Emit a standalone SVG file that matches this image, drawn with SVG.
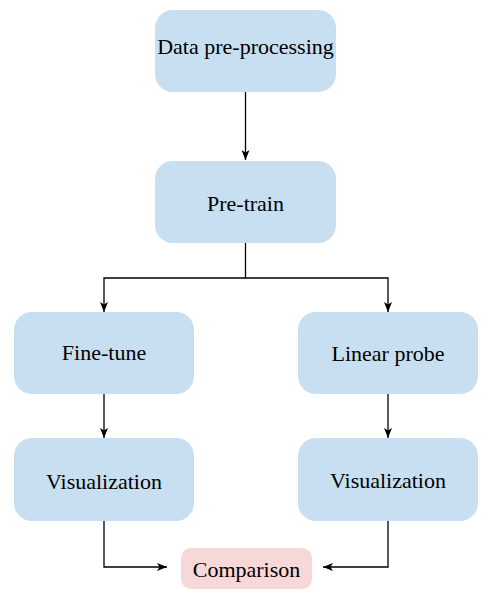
<svg xmlns="http://www.w3.org/2000/svg" width="494" height="596" viewBox="0 0 494 596">
<style>
.n{fill:#c7dff1;}
.c{fill:#f7d7d8;}
text{font-family:"Liberation Serif","Times New Roman",serif;font-size:22px;fill:#000;text-anchor:middle;}
.e{fill:none;stroke:#000;stroke-width:1.3;marker-end:url(#ah);}
</style>
<defs>
<marker id="ah" viewBox="0 0 10 8" refX="10" refY="4" markerWidth="10" markerHeight="8" markerUnits="userSpaceOnUse" orient="auto">
<path d="M0,0 L10,4 L0,8 L2.5,4 Z" fill="#000"/>
</marker>
</defs>
<g id="edges">
<path class="e" d="M245.5,92 V160"/>
<path class="e" d="M245.5,243 V278 H104 V312"/>
<path class="e" d="M245.5,278 H388 V312"/>
<path class="e" d="M104,394 V438"/>
<path class="e" d="M388,394 V438"/>
<path class="e" d="M104,521 V567 H167"/>
<path class="e" d="M388,521 V567 H323"/>
</g>
<g id="data"><rect class="n" x="155" y="10" width="181" height="82" rx="18"/><text x="245.5" y="54">Data pre-processing</text></g>
<g id="pretrain"><rect class="n" x="155" y="161" width="181" height="82" rx="18"/><text x="245.5" y="211">Pre-train</text></g>
<g id="finetune"><rect class="n" x="14" y="312" width="180" height="82" rx="18"/><text x="104" y="360">Fine-tune</text></g>
<g id="linear"><rect class="n" x="298" y="312" width="180" height="82" rx="18"/><text x="388" y="361">Linear probe</text></g>
<g id="vis1"><rect class="n" x="14" y="438" width="180" height="83" rx="18"/><text x="104" y="489">Visualization</text></g>
<g id="vis2"><rect class="n" x="298" y="438" width="180" height="83" rx="18"/><text x="388" y="488">Visualization</text></g>
<g id="comparison"><rect class="c" x="181" y="548" width="131" height="41" rx="10"/><text x="246.5" y="577">Comparison</text></g>
</svg>
